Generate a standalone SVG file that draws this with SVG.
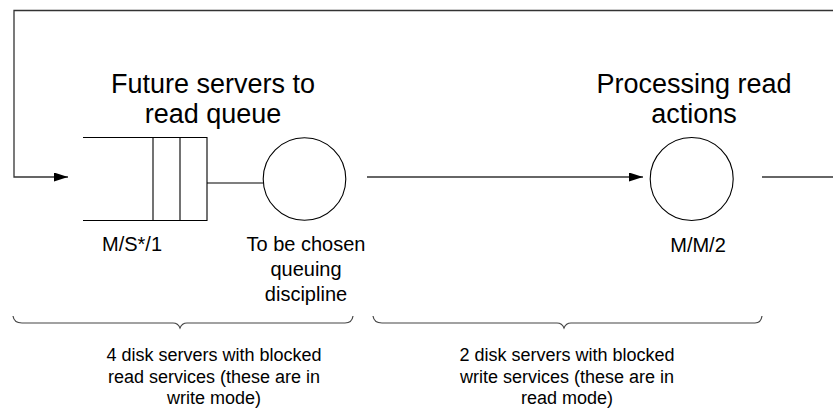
<svg xmlns="http://www.w3.org/2000/svg" width="833" height="409" viewBox="0 0 833 409">
<defs>
<marker id="arr" markerWidth="14" markerHeight="9" refX="14" refY="4.5" orient="auto" markerUnits="userSpaceOnUse">
<path d="M0,0 L14,4.5 L0,9 Z" fill="#000"/>
</marker>
<style>
.ln{fill:none;stroke:#333;stroke-width:1.3}
.sh{fill:none;stroke:#000;stroke-width:1.1}
.br{fill:none;stroke:#444;stroke-width:1.2}
.tl{font-family:"Liberation Sans",Arial,sans-serif;font-size:27px;fill:#000;text-anchor:middle}
.tm{font-family:"Liberation Sans",Arial,sans-serif;font-size:20px;fill:#000;text-anchor:middle}
.ts{font-family:"Liberation Sans",Arial,sans-serif;font-size:18px;fill:#000;text-anchor:middle}
</style>
</defs>
<rect width="833" height="409" fill="#fff"/>
<g id="connectors">
<path class="ln" d="M833,10.5 H14 V177 H68" marker-end="url(#arr)"/>
<path class="ln" d="M367,177 H643" marker-end="url(#arr)"/>
<path class="ln" d="M762,177 H833"/>
</g>
<g id="queue1">
<path class="sh" d="M83,137.5 H207 V220.5 H83 M153,137.5 V220.5 M180,137.5 V220.5 M207,183 H263"/>
<text class="tl" x="213" y="93">Future servers to</text>
<text class="tl" x="213" y="123">read queue</text>
<text class="tm" x="132" y="251">M/S*/1</text>
</g>
<g id="server1">
<circle class="sh" cx="304.5" cy="179" r="41.3"/>
<text class="tm" x="306" y="251">To be chosen</text>
<text class="tm" x="306" y="276">queuing</text>
<text class="tm" x="306" y="301">discipline</text>
</g>
<g id="server2">
<circle class="sh" cx="691.7" cy="179" r="41.5"/>
<text class="tl" x="694" y="93">Processing read</text>
<text class="tl" x="694" y="123">actions</text>
<text class="tm" x="698" y="252">M/M/2</text>
</g>
<g id="brace1">
<path class="br" d="M13,316 Q14,323 22,323 H173 Q178,323 180,328 Q182,323 187,323 H345 Q352,323 353,316"/>
<text class="ts" x="214" y="361">4 disk servers with blocked</text>
<text class="ts" x="214" y="383">read services (these are in</text>
<text class="ts" x="214" y="404">write mode)</text>
</g>
<g id="brace2">
<path class="br" d="M373,316 Q374,323 382,323 H557 Q562,323 564,328 Q566,323 571,323 H755 Q761,323 762,316"/>
<text class="ts" x="567" y="361">2 disk servers with blocked</text>
<text class="ts" x="567" y="383">write services (these are in</text>
<text class="ts" x="567" y="404">read mode)</text>
</g>
</svg>
